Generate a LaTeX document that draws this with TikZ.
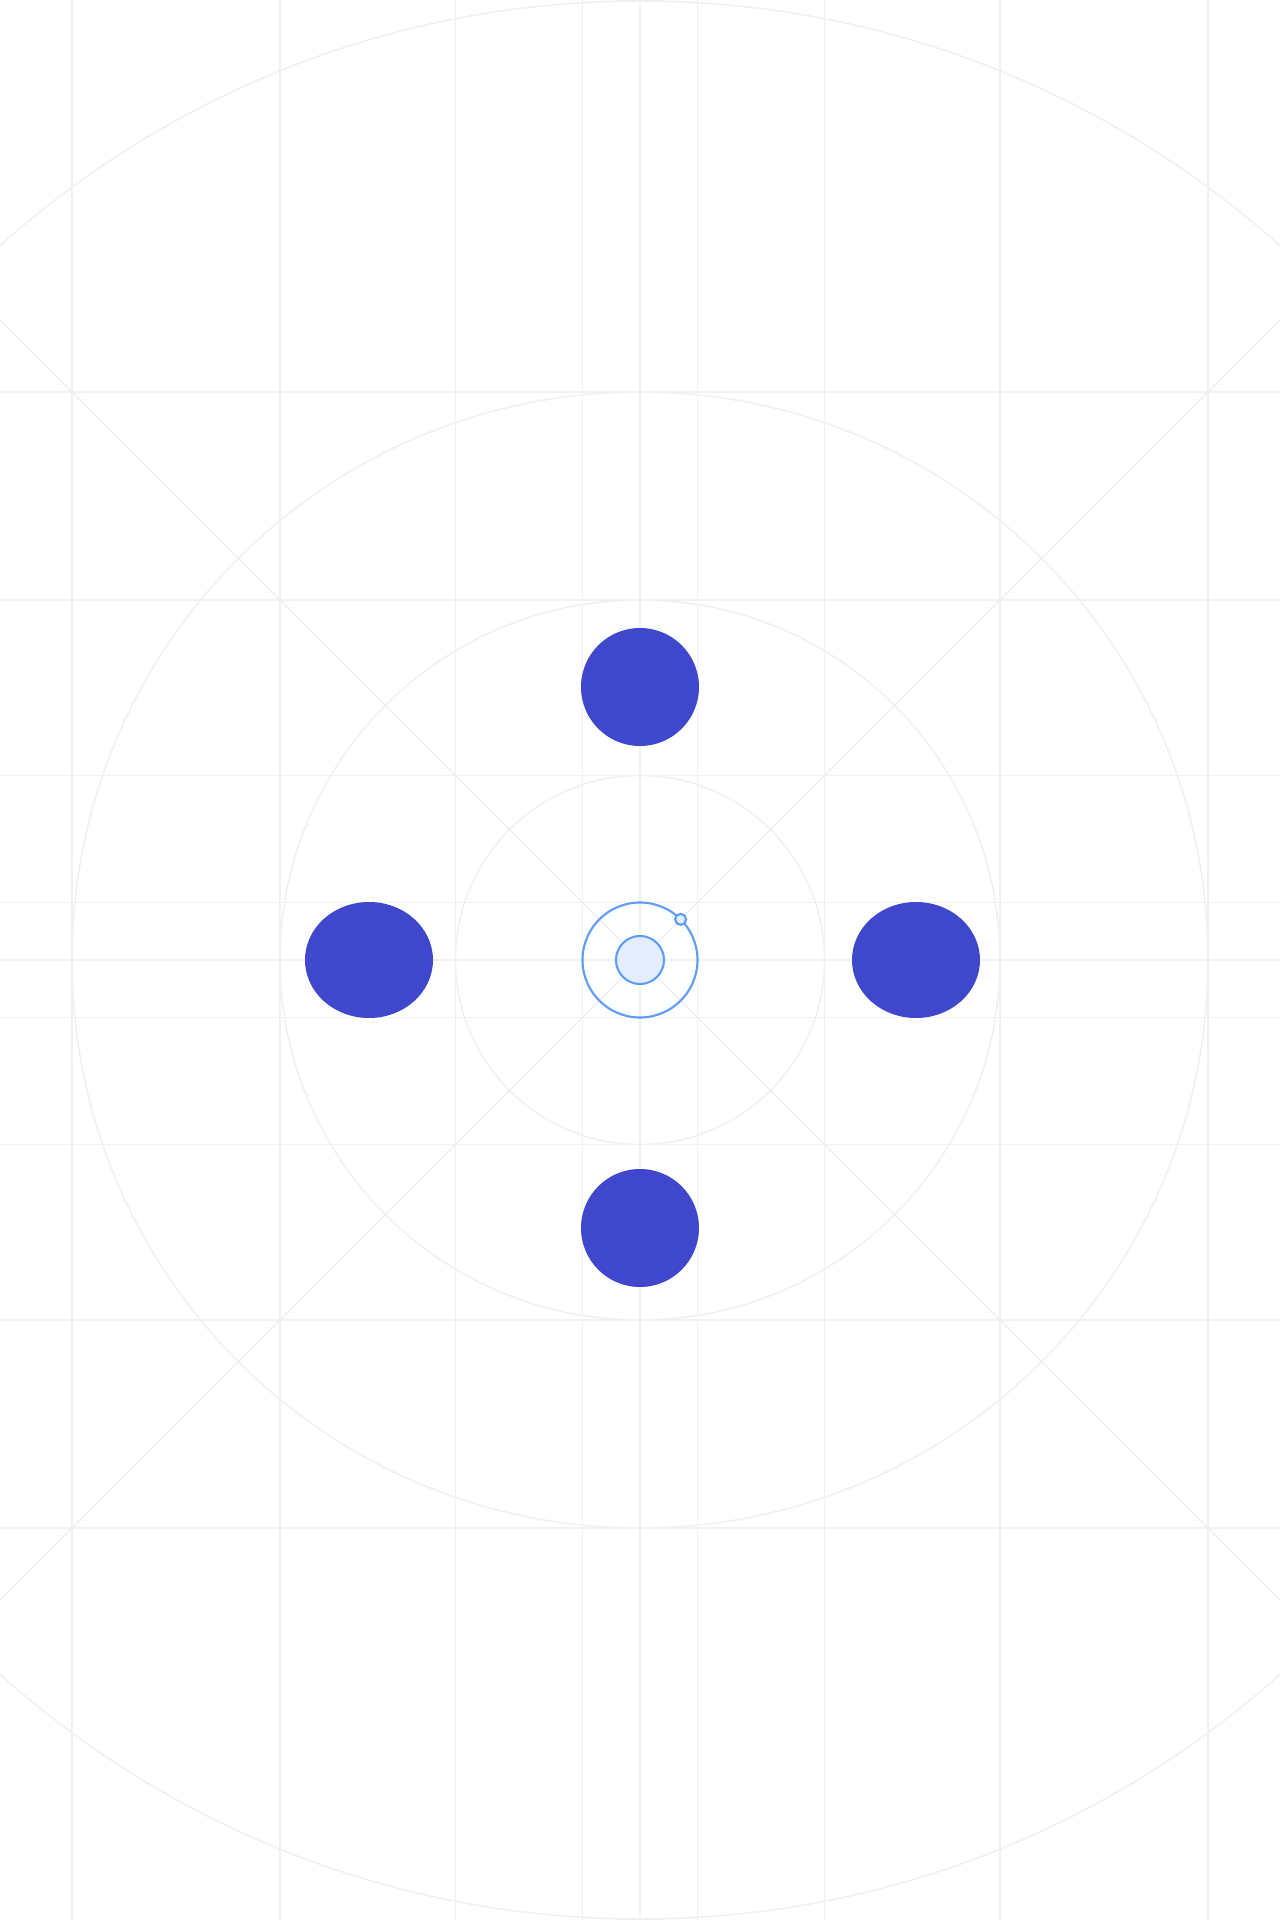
\documentclass[tikz,border=0pt]{standalone}
\usetikzlibrary{positioning}

\definecolor{gridgray}{HTML}{F1F1F3}
\definecolor{dotblue}{HTML}{3F48CC}
\definecolor{ringblue}{HTML}{5E9DF7}
\definecolor{ringfill}{HTML}{E3EDFC}

\begin{document}
\begin{tikzpicture}[
    x=0.1mm, y=0.1mm,
    keyline/.style={
        draw=gridgray,
        line width=0.45pt
    },
    keydot/.style={
        fill=dotblue
    },
    ringline/.style={
        draw=ringblue,
        line width=0.6pt
    },
    ringdisc/.style={
        ringline,
        fill=ringfill
    }
]

    % Page
    \useasboundingbox[fill=white] (-640,-960) rectangle (640,960);

    % Keyline grid
    \begin{scope}
        \clip (-640,-960) rectangle (640,960);
        \foreach \d in {57.5,184.5,360,568} {
            \draw[keyline] (\d,-960) -- (\d,960);
            \draw[keyline] (-\d,-960) -- (-\d,960);
            \draw[keyline] (-640,\d) -- (640,\d);
            \draw[keyline] (-640,-\d) -- (640,-\d);
        }
        \draw[keyline] (0,-960) -- (0,960);
        \draw[keyline] (-640,0) -- (640,0);
        \draw[keyline] (-960,-960) -- (960,960);
        \draw[keyline] (-960,960) -- (960,-960);
        \foreach \r in {184.5,360,568,959} {
            \draw[keyline] (0,0) circle (\r);
        }
    \end{scope}

    % Centre
    \coordinate (centre) at (0,0);

    % Four dots
    \fill[keydot] (0,273) circle (59);
    \fill[keydot] (0,-268) circle (59);
    \fill[keydot] (-271,0) ellipse (64 and 58);
    \fill[keydot] (276,0) ellipse (64 and 58);

    % Ring with handle
    \draw[ringline] (centre) circle (57.5);
    \draw[ringdisc] (centre) circle (24);
    \draw[ringdisc] (45:57.5) circle (5.5);

\end{tikzpicture}
\end{document}
